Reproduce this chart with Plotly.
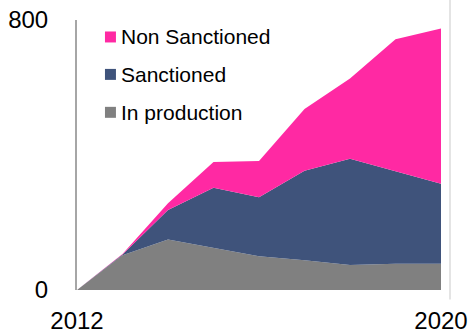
import plotly.graph_objects as go

# Stacked capacity by status, 2012-2020
years = [2012, 2013, 2014, 2015, 2016, 2017, 2018, 2019, 2020]
in_production = [0, 103, 150, 125, 100, 88, 74, 78, 78]
sanctioned = [0, 2, 87, 178, 175, 265, 315, 275, 237]
non_sanctioned = [0, 2, 20, 76, 107, 183, 238, 390, 460]

series_names = ["In production", "Sanctioned", "Non Sanctioned"]
series_values = [in_production, sanctioned, non_sanctioned]
series_colors = ["#808080", "#3F537B", "#FF29A3"]

x_ticks = [2012, 2020]
y_ticks = [0, 800]

W, H = 471, 335
M_L, M_R, M_T, M_B = 77, 29.5, 20, 44.5
FONT = "Liberation Sans, Arial, sans-serif"

fig = go.Figure()
for name, vals, col in zip(series_names, series_values, series_colors):
    fig.add_trace(go.Scatter(
        x=years, y=vals, name=name, stackgroup="one", mode="lines",
        line=dict(width=0, color=col), fillcolor=col, showlegend=False,
    ))

plot_w = W - M_L - M_R
plot_h = H - M_T - M_B


def px_x(px):
    return (px - M_L) / plot_w


def px_y(py):
    return (H - M_B - py) / plot_h


# Legend: coloured squares with labels, top entry first
shapes = []
annotations = []
legend_rows = [("Non Sanctioned", series_colors[2], 37),
               ("Sanctioned", series_colors[1], 74.5),
               ("In production", series_colors[0], 112.5)]
for label, col, cy in legend_rows:
    shapes.append(dict(type="rect", xref="paper", yref="paper",
                       x0=px_x(105), x1=px_x(116), y0=px_y(cy + 5.5), y1=px_y(cy - 5.5),
                       fillcolor=col, line=dict(width=0)))
    annotations.append(dict(text=label, xref="paper", yref="paper",
                            x=px_x(119), y=px_y(cy), xanchor="left", yanchor="middle",
                            showarrow=False, font=dict(family=FONT, size=21, color="black")))

# faint frame line on the right
shapes.append(dict(type="line", xref="paper", yref="paper",
                   x0=px_x(450.5), x1=px_x(450.5), y0=px_y(300), y1=px_y(0),
                   line=dict(color="#e4e4e4", width=2)))

fig.update_layout(
    width=W, height=H,
    margin=dict(l=M_L, r=M_R, t=M_T, b=M_B, pad=0, autoexpand=False),
    paper_bgcolor="white", plot_bgcolor="white",
    showlegend=False,
    shapes=shapes, annotations=annotations,
    font=dict(family=FONT, color="black"),
    xaxis=dict(range=[2012, 2020], tickvals=x_ticks, ticktext=[str(v) for v in x_ticks],
               showgrid=False, zeroline=False, showline=False, ticks="",
               tickfont=dict(size=24), ticklabelstandoff=14, automargin=False),
    yaxis=dict(range=[0, 800], tickvals=y_ticks, showgrid=False, zeroline=False,
               showline=True, linecolor="#a6a6a6", linewidth=2,
               ticks="inside", ticklen=8, tickwidth=2, tickcolor="#a6a6a6",
               tickfont=dict(size=24), ticklabelstandoff=22, layer="below traces",
               automargin=False),
)

fig.write_html("out.html")
